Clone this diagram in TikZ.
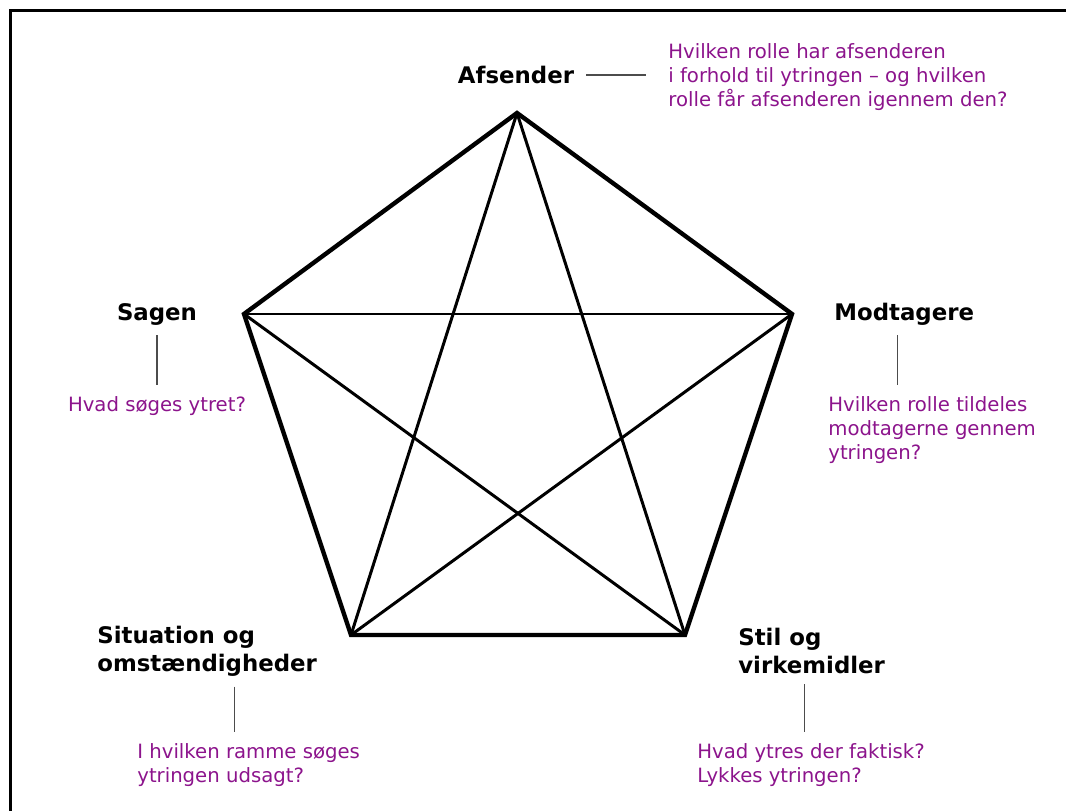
\documentclass[tikz,border=0pt]{standalone}
\usepackage{fontspec}
\setmainfont{DejaVu Sans}
\usetikzlibrary{positioning}
\definecolor{qpurple}{RGB}{140,20,140}

\begin{document}
\begin{tikzpicture}[x=0.02cm, y=0.02cm,
  corner/.style={font=\fontsize{13}{16}\selectfont\bfseries, inner sep=0pt, align=left},
  question/.style={font=\fontsize{11.2}{13.6}\selectfont, text=qpurple, inner sep=0pt, align=left},
  conn/.style={draw=black!70, line width=0.8pt}]
\useasboundingbox (0,0) rectangle (1066,-811);
% Frame
\draw[line width=1.7pt] (10.5,-811) -- (10.5,-10.5) -- (1066,-10.5);

% Corners of the pentagon
\coordinate (A) at (517,-113);
\coordinate (M) at (792,-314);
\coordinate (S) at (685,-635);
\coordinate (O) at (351,-635);
\coordinate (G) at (244,-314);

% Pentagon and star
\draw[line width=2.5pt] (A) -- (M) -- (S) -- (O) -- (G) -- cycle;
\foreach \a/\b in {A/S, S/G, G/M, M/O, O/A}
  \draw[line width=1.7pt] (\a) -- (\b);

% Afsender
\node[corner] (afs) at (516,-75) {Afsender};
\node[question, anchor=west] (afsq) at (668,-77) {Hvilken rolle har afsenderen\\i forhold til ytringen – og hvilken\\rolle får afsenderen igennem den?};
\draw[conn, shorten <=0.24cm, shorten >=0.44cm] (afs.east) -- (afs.east -| afsq.west);

% Sagen
\node[corner] (sag) at (157,-314) {Sagen};
\node[question] (sagq) at (157,-406) {Hvad søges ytret?};
\draw[conn, shorten <=0.2cm, shorten >=0.22cm] (sag.south) -- (sag.south |- sagq.north);

% Modtagere
\node[corner, anchor=west] (mod) at (834,-314) {Modtagere};
\node[question, anchor=west] (modq) at (828,-430) {Hvilken rolle tildeles\\modtagerne gennem\\ytringen?};
\draw[conn, shorten <=0.2cm, shorten >=0.22cm] ([xshift=-0.14cm]mod.south) -- ([xshift=-0.14cm]mod.south |- modq.north);

% Situation og omstaendigheder
\node[corner, anchor=west] (sit) at (97,-651) {Situation og\\omstændigheder};
\node[question, anchor=west] (sitq) at (137,-765) {I hvilken ramme søges\\ytringen udsagt?};
\draw[conn, shorten <=0.2cm, shorten >=0.22cm] ([xshift=0.55cm]sit.south) -- ([xshift=0.55cm]sit.south |- sitq.north);

% Stil og virkemidler
\node[corner, anchor=west] (stil) at (738,-651) {Stil og\\virkemidler};
\node[question, anchor=west] (stilq) at (697,-765) {Hvad ytres der faktisk?\\Lykkes ytringen?};
\draw[conn, shorten <=0.2cm, shorten >=0.22cm] ([xshift=-0.14cm]stil.south) -- ([xshift=-0.14cm]stil.south |- stilq.north);
\end{tikzpicture}
\end{document}
